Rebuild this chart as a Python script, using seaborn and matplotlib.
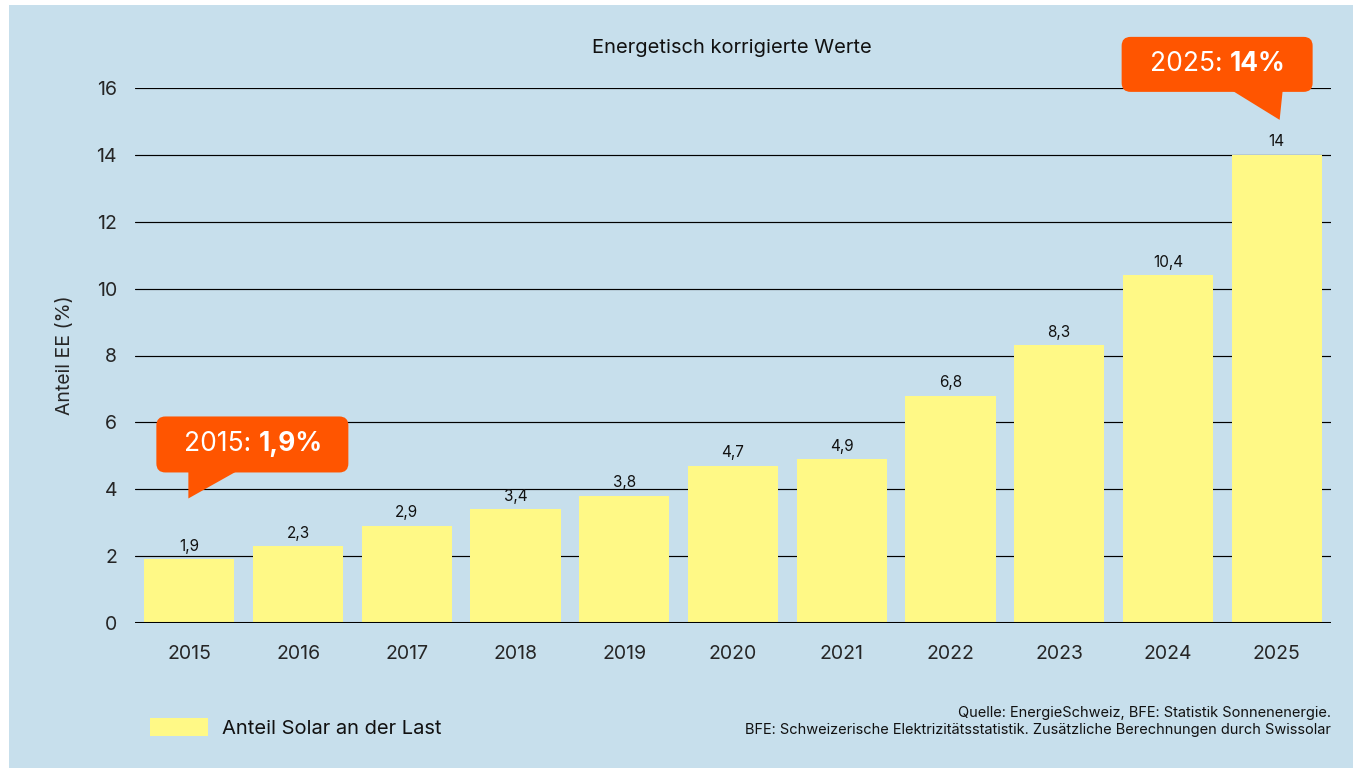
import matplotlib
matplotlib.use("Agg")
import matplotlib.pyplot as plt
from matplotlib.patches import Rectangle, FancyBboxPatch, Polygon
import seaborn as sns
import pandas as pd

years = ["2015", "2016", "2017", "2018", "2019", "2020", "2021", "2022", "2023", "2024", "2025"]
anteil = [1.9, 2.3, 2.9, 3.4, 3.8, 4.7, 4.9, 6.8, 8.3, 10.4, 14.0]
bar_labels = ["1,9", "2,3", "2,9", "3,4", "3,8", "4,7", "4,9", "6,8", "8,3", "10,4", "14"]
yticks = [0, 2, 4, 6, 8, 10, 12, 14, 16]

BG = "#c7dfec"
BAR = "#fff986"
ORANGE = "#ff5500"

sns.set_theme(style="white")
plt.rcParams["font.family"] = ["Inter", "DejaVu Sans"]

df = pd.DataFrame({"Jahr": years, "Anteil": anteil})

fig = plt.figure(figsize=(13.53, 7.68), dpi=100)
fig.patch.set_facecolor("white")
fig.patches.append(Rectangle((9, 0), 1344, 763, transform=None, facecolor=BG,
                             edgecolor="none", zorder=-10))

ax = fig.add_axes([135 / 1353, 1 - 623 / 768, 1196 / 1353, 535 / 768])
ax.set_facecolor("none")

sns.barplot(data=df, x="Jahr", y="Anteil", color=BAR, width=0.83, saturation=1,
            edgecolor="none", linewidth=0, label="Anteil Solar an der Last",
            ax=ax, zorder=3)
if ax.get_legend() is not None:
    ax.get_legend().remove()

ax.set_xlim(-0.5, 10.5)
ax.set_ylim(0, 16)
ax.set_yticks(yticks)
ax.set_yticklabels([str(t) for t in yticks], fontsize=14)
ax.tick_params(axis="x", labelsize=14, length=0, pad=16)
ax.tick_params(axis="y", length=0, pad=13)
for t in yticks[1:]:
    ax.axhline(t, color="black", lw=0.85, zorder=0)
ax.axhline(0, color="black", lw=2.2, zorder=4)
for s in ax.spines.values():
    s.set_visible(False)
ax.set_xlabel("")
ax.set_ylabel("Anteil EE (%)", fontsize=14, labelpad=16)

for i, (v, lab) in enumerate(zip(anteil, bar_labels)):
    ax.annotate(lab, (i, v), xytext=(0, 4), textcoords="offset points",
                ha="center", va="bottom", fontsize=11, color="#111111")

fig.text(732 / 1353, 1 - 48 / 768, "Energetisch korrigierte Werte", ha="center",
         va="center", fontsize=14.5, color="#111111")


def callout(idx, left, right, bottom, top, tail, split, year, value):
    # offsets in pixels relative to the top of the bar
    cx, cy = ax.transData.transform((idx, anteil[idx]))
    box = FancyBboxPatch((cx + left, cy + bottom), right - left, top - bottom,
                         boxstyle="round,pad=0,rounding_size=9", transform=None,
                         facecolor=ORANGE, edgecolor="none", clip_on=False, zorder=6)
    fig.patches.append(box)
    pts = [(cx + x, cy + y) for x, y in tail]
    fig.patches.append(Polygon(pts, closed=True, transform=None, facecolor=ORANGE,
                               edgecolor="none", zorder=6))
    ty = cy + (bottom + top) / 2
    fig.text((cx + split) / 1353, ty / 768, year + ": ", ha="right", va="center",
             fontsize=19, color="white", zorder=7)
    fig.text((cx + split) / 1353, ty / 768, value, ha="left", va="center",
             fontsize=19, color="white", fontweight="bold", zorder=7)


callout(10, -155, 36, 63, 118, [(-44, 64), (6, 64), (3, 35)], -47, "2025", "14%")
callout(0, -33, 159, 87, 143, [(-1, 88), (47, 88), (-1, 61)], 69, "2015", "1,9%")

handles, labels = ax.get_legend_handles_labels()
fig.legend(handles, labels, loc="center left", bbox_to_anchor=(132 / 1353, 1 - 728 / 768),
           frameon=False, fontsize=14.5, handlelength=2.85, handleheight=1.0,
           handletextpad=0.7, labelcolor="#111111")

fig.text(1331 / 1353, 1 - 713 / 768, "Quelle: EnergieSchweiz, BFE: Statistik Sonnenenergie.",
         ha="right", va="center", fontsize=10.5, color="#111111")
fig.text(1331 / 1353, 1 - 730 / 768,
         "BFE: Schweizerische Elektrizitätsstatistik. Zusätzliche Berechnungen durch Swissolar",
         ha="right", va="center", fontsize=10.5, color="#111111")

fig.savefig("out.png", dpi=100)
